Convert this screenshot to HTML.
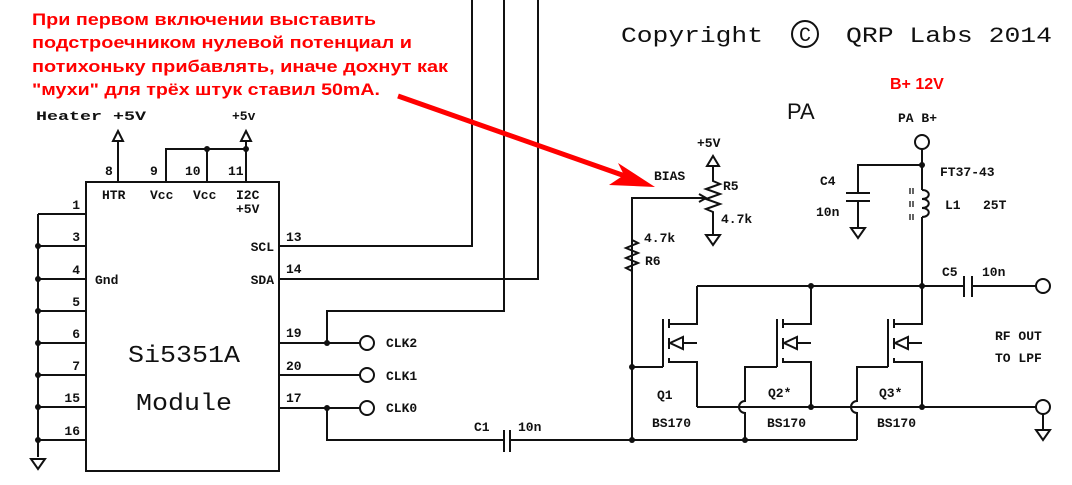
<!DOCTYPE html>
<html><head><meta charset="utf-8"><style>
html,body{margin:0;padding:0;background:#fff;width:1072px;height:485px;overflow:hidden}
svg{display:block}
.t{font-family:"Liberation Mono",monospace;font-size:13px;font-weight:bold;fill:#111}
.r{font-family:"Liberation Sans",sans-serif;font-weight:bold;fill:#f00}
</style></head><body>
<svg width="1072" height="485" viewBox="0 0 1072 485" xmlns="http://www.w3.org/2000/svg">
<g stroke="#111" stroke-width="2" fill="none">
<rect x="86" y="182" width="193" height="289"/>
<path d="M38 214V457M38 214H86M38 246H86M38 279H86M38 311H86M38 343H86M38 375H86M38 407H86M38 440H86"/>
<path d="M31 459H45L38 469Z"/>
<path d="M118 182V140M166 182V149H246M207 182V149M246 182V140"/>
<path d="M113 141H123L118 131Z M241 141H251L246 131Z"/>
<path d="M279 246H472V0M279 279H538V0M504 0V311H327V343M279 343H360M279 375H360M279 408H360M327 408V440H504M510 440H632"/>
<circle cx="367" cy="343" r="7"/><circle cx="367" cy="375" r="7"/><circle cx="367" cy="408" r="7"/>
<path d="M504 430V452M510 430V452"/>
<path d="M632 440V240l6 3-12 5 12 5-12 5 12 5-12 5 6 3M632 240V198H704"/>
<path d="M699 194L706 198L699 202"/>
<path d="M713 165V181l7 3-14 5 14 5-14 5 14 5-14 5 7 3V235"/>
<path d="M707 166H719L713 156Z M706 235H720L713 245Z"/>
<g id="q">
<path d="M663 319V367M669 319V328M669 338V349M669 358V363M669 324H697V286M669 362H697V407M683 343H697"/>
<path d="M670 343L683 337V349Z"/>
</g>
<use href="#q" transform="translate(114,0)"/>
<use href="#q" transform="translate(225,0)"/>
<path d="M632 367H663"/>
<path d="M777 367H745V401A6 6 0 0 0 745 413V440"/>
<path d="M888 367H857V401A6 6 0 0 0 857 413V440"/>
<path d="M632 440H857"/>
<path d="M697 286H964M972 286H1036M964 276V297M972 276V297"/>
<circle cx="1043" cy="286" r="7"/>
<path d="M697 407H1036"/>
<circle cx="1043" cy="407" r="7"/>
<path d="M1043 414V430M1036 430H1050L1043 440Z"/>
<circle cx="922" cy="142" r="7"/>
<path d="M922 149V190M922 218V286M922 165H858V193M846 193H870M846 201H870M858 201V228M851 228H865L858 238Z"/>
<path d="M922 190c9 0 9 9 0 9 M922 199c9 0 9 9 0 9 M922 208c9 0 9 9 0 9 M922 217V218"/>
<path d="M910 188V194M913 188V194M910 201V207M913 201V207M910 214V220M913 214V220" stroke-width="1.3"/>
</g>
<g fill="#111">
<circle cx="38" cy="246" r="3"/><circle cx="38" cy="279" r="3"/><circle cx="38" cy="311" r="3"/><circle cx="38" cy="343" r="3"/><circle cx="38" cy="375" r="3"/><circle cx="38" cy="407" r="3"/><circle cx="38" cy="440" r="3"/>
<circle cx="207" cy="149" r="3"/><circle cx="246" cy="149" r="3"/>
<circle cx="327" cy="343" r="3"/><circle cx="327" cy="408" r="3"/>
<circle cx="632" cy="367" r="3"/><circle cx="632" cy="440" r="3"/><circle cx="745" cy="440" r="3"/>
<circle cx="811" cy="286" r="3"/><circle cx="922" cy="286" r="3"/><circle cx="922" cy="165" r="3"/>
<circle cx="811" cy="407" r="3"/><circle cx="922" cy="407" r="3"/>
</g>
<path d="M398 96L625 176" stroke="#f00" stroke-width="5"/>
<path d="M655 187L609 185L624 175L618 163Z" fill="#f00"/>
<g class="t">
<text x="36" y="120" textLength="110" lengthAdjust="spacingAndGlyphs">Heater +5V</text>
<text x="232" y="120">+5v</text>
<text x="105" y="175">8</text><text x="150" y="175">9</text><text x="185" y="175">10</text><text x="228" y="175">11</text>
<text x="102" y="199">HTR</text><text x="150" y="199">Vcc</text><text x="193" y="199">Vcc</text><text x="236" y="199">I2C</text><text x="236" y="213">+5V</text>
<g text-anchor="end"><text x="80" y="209">1</text><text x="80" y="241">3</text><text x="80" y="274">4</text><text x="80" y="306">5</text><text x="80" y="338">6</text><text x="80" y="370">7</text><text x="80" y="402">15</text><text x="80" y="435">16</text>
<text x="274" y="251">SCL</text><text x="274" y="284">SDA</text></g>
<text x="95" y="284">Gnd</text>
<text x="286" y="241">13</text><text x="286" y="273">14</text><text x="286" y="337">19</text><text x="286" y="370">20</text><text x="286" y="402">17</text>
<text x="386" y="347">CLK2</text><text x="386" y="380">CLK1</text><text x="386" y="412">CLK0</text>
<text x="474" y="431">C1</text><text x="518" y="431">10n</text>
<text x="654" y="180">BIAS</text><text x="697" y="147">+5V</text><text x="723" y="190">R5</text><text x="721" y="223">4.7k</text>
<text x="644" y="242">4.7k</text><text x="645" y="265">R6</text>
<text x="820" y="185">C4</text><text x="816" y="216">10n</text>
<text x="940" y="176">FT37-43</text><text x="945" y="209">L1</text><text x="983" y="209">25T</text>
<text x="942" y="276">C5</text><text x="982" y="276">10n</text>
<text x="995" y="340">RF OUT</text><text x="995" y="362">TO LPF</text>
<text x="657" y="399">Q1</text><text x="652" y="427">BS170</text>
<text x="768" y="397">Q2*</text><text x="767" y="427">BS170</text>
<text x="879" y="397">Q3*</text><text x="877" y="427">BS170</text>
<text x="898" y="122">PA B+</text>
</g>
<text x="184" y="362" text-anchor="middle" font-family="Liberation Mono,monospace" font-size="24" fill="#111" textLength="112" lengthAdjust="spacingAndGlyphs">Si5351A</text>
<text x="184" y="410" text-anchor="middle" font-family="Liberation Mono,monospace" font-size="24" fill="#111" textLength="96" lengthAdjust="spacingAndGlyphs">Module</text>
<text x="787" y="119" font-family="Liberation Sans,sans-serif" font-size="22" fill="#111">PA</text>
<g font-family="Liberation Mono,monospace" font-size="22" fill="#111">
<text x="621" y="42" textLength="142" lengthAdjust="spacingAndGlyphs">Copyright</text>
<text x="846" y="42" textLength="206" lengthAdjust="spacingAndGlyphs">QRP Labs 2014</text>
<text x="805" y="41" text-anchor="middle" font-size="20">C</text>
</g>
<circle cx="805" cy="34" r="13" stroke="#111" stroke-width="2" fill="none"/>
<g class="r" font-size="17">
<text x="32" y="25" textLength="344" lengthAdjust="spacingAndGlyphs">При первом включении выставить</text>
<text x="32" y="48" textLength="380" lengthAdjust="spacingAndGlyphs">подстроечником нулевой потенциал и</text>
<text x="32" y="72" textLength="416" lengthAdjust="spacingAndGlyphs">потихоньку прибавлять, иначе дохнут как</text>
<text x="32" y="95" textLength="348" lengthAdjust="spacingAndGlyphs">"мухи" для трёх штук ставил 50mA.</text>
</g>
<text x="890" y="89" class="r" font-size="16">B+ 12V</text>
</svg>
</body></html>
